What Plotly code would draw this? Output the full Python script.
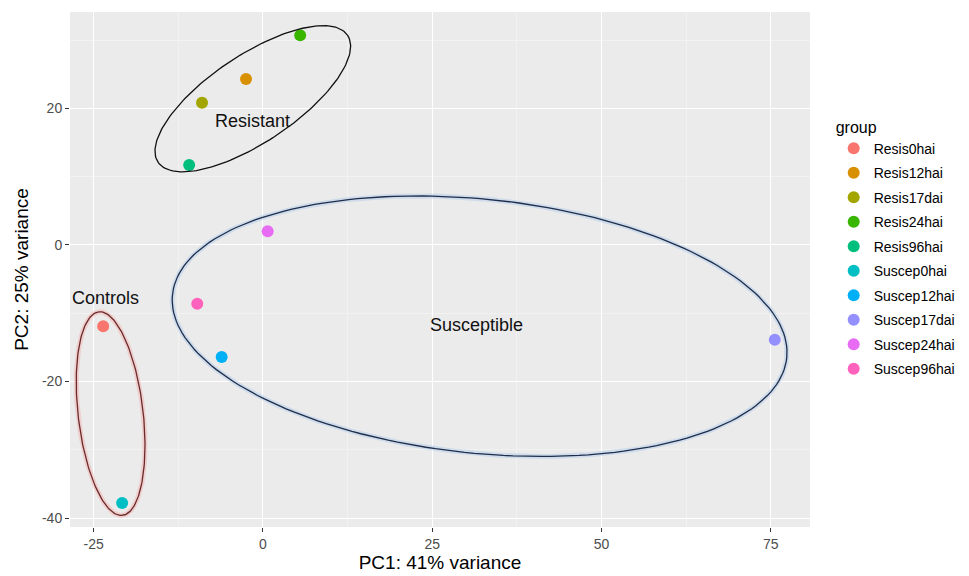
import numpy as np
import plotly.graph_objects as go

groups = ["Resis0hai", "Resis12hai", "Resis17dai", "Resis24hai", "Resis96hai",
          "Suscep0hai", "Suscep12hai", "Suscep17dai", "Suscep24hai", "Suscep96hai"]
pc1 = [-23.6, -2.5, -9.0, 5.5, -10.9, -20.8, -6.1, 75.6, 0.7, -9.7]
pc2 = [-11.9, 24.3, 20.8, 30.7, 11.7, -37.8, -16.4, -13.9, 2.0, -8.6]
colors = ["#F8766D", "#D89000", "#A3A500", "#39B600", "#00BF7D",
          "#00BFC4", "#00B0F6", "#9590FF", "#E76BF3", "#FF62BC"]

x_ticks = [-25, 0, 25, 50, 75]
y_ticks = [-40, -20, 0, 20]

# hand-drawn group ellipses: (label, cx, cy, semi-major, semi-minor, angle deg, line, glow)
ellipses = [
    ("Resistant", -1.5, 21.4, 16.8, 6.4, 33.5, "#111111", None),
    ("Susceptible", 32.0, -11.9, 45.6, 18.6, -5.8, "#1e2d4a", "rgba(170,200,235,0.45)"),
    ("Controls", -22.5, -24.7, 15.0, 4.8, 96.7, "#6b2a2a", "rgba(245,170,170,0.45)"),
]
labels = [("Resistant", -1.6, 18.2), ("Susceptible", 31.5, -11.7), ("Controls", -23.3, -7.8)]

FONT = "Liberation Sans, Arial, sans-serif"
fig = go.Figure()

for g, x, y, c in zip(groups, pc1, pc2, colors):
    fig.add_trace(go.Scatter(x=[x], y=[y], mode="markers", name=g, legendgroup=g,
                             marker=dict(color=c, size=12, line=dict(width=0))))

t = np.linspace(0, 2 * np.pi, 200)
for name, cx, cy, a, b, ang, lc, glow in ellipses:
    th = np.deg2rad(ang)
    ex = cx + a * np.cos(t) * np.cos(th) - b * np.sin(t) * np.sin(th)
    ey = cy + a * np.cos(t) * np.sin(th) + b * np.sin(t) * np.cos(th)
    if glow:
        fig.add_trace(go.Scatter(x=ex, y=ey, mode="lines", line=dict(color=glow, width=5),
                                 showlegend=False, hoverinfo="skip"))
    fig.add_trace(go.Scatter(x=ex, y=ey, mode="lines", line=dict(color=lc, width=1.3),
                             showlegend=False, hoverinfo="skip"))

for txt, x, y in labels:
    fig.add_annotation(x=x, y=y, text=txt, showarrow=False,
                       font=dict(family=FONT, size=18, color="#111111"))

axis_common = dict(showline=False, zeroline=False, ticks="outside", ticklen=4,
                   tickcolor="#333333", tickfont=dict(family=FONT, size=14, color="#4D4D4D"),
                   gridcolor="#FFFFFF", gridwidth=1.4,
                   minor=dict(showgrid=True, gridcolor="#F2F2F2", gridwidth=0.7))

fig.update_xaxes(range=[-28.5, 80.8], tickvals=x_ticks, ticktext=[str(v) for v in x_ticks],
                 minor_tickvals=[-12.5, 12.5, 37.5, 62.5],
                 title=dict(text="PC1: 41% variance", font=dict(family=FONT, size=19, color="#000000"),
                            standoff=4), **axis_common)
fig.update_yaxes(range=[-41.3, 34.1], tickvals=y_ticks, ticktext=[str(v) for v in y_ticks],
                 minor_tickvals=[-30, -10, 10, 30],
                 title=dict(text="PC2: 25% variance", font=dict(family=FONT, size=19, color="#000000"),
                            standoff=8), **axis_common)
fig.update_xaxes(minor=dict(ticks=""))
fig.update_yaxes(minor=dict(ticks=""))

fig.update_layout(
    width=969, height=576,
    margin=dict(l=62, r=167, t=4, b=57),
    plot_bgcolor="#EBEBEB", paper_bgcolor="#FFFFFF",
    font=dict(family=FONT),
    legend=dict(title=dict(text="group", font=dict(family=FONT, size=16, color="#000000")),
                x=1.032, y=0.806, xanchor="left", yanchor="top",
                font=dict(family=FONT, size=14, color="#000000"),
                tracegroupgap=3.3, itemsizing="constant", bgcolor="rgba(0,0,0,0)"),
)

fig.write_html("out.html")
